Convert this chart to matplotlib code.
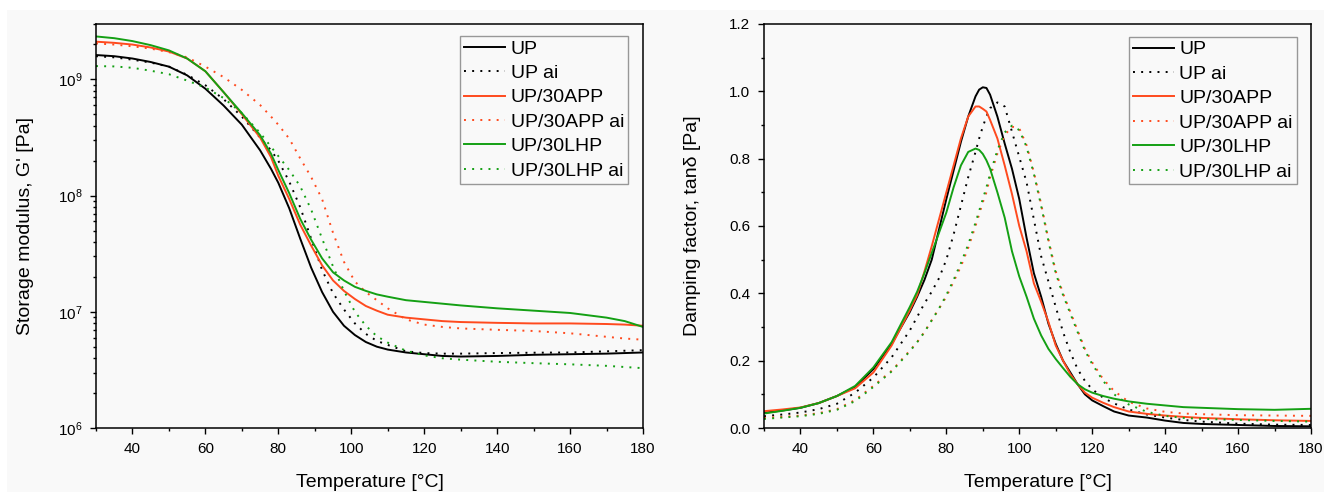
import numpy as np
import matplotlib
matplotlib.use("Agg")
import matplotlib.pyplot as plt
from matplotlib.patches import Rectangle
from matplotlib.ticker import LogLocator, MultipleLocator, NullFormatter

plt.rcParams['font.family'] = ['Liberation Sans', 'DejaVu Sans']
plt.rcParams['mathtext.fontset'] = 'custom'
plt.rcParams['mathtext.rm'] = 'Liberation Sans'
plt.rcParams['mathtext.it'] = 'Liberation Sans:italic'

# ---- storage modulus, log10(G' / Pa) ----
temp_g = [30, 35, 40, 45, 50, 55, 60, 65, 70, 75, 78, 80, 83, 86, 89, 92, 95, 98,
          101, 104, 107, 110, 115, 120, 125, 130, 140, 150, 160, 170, 175, 180]
logG_up = [9.21, 9.20, 9.18, 9.15, 9.11, 9.035, 8.92, 8.775, 8.61, 8.39, 8.23, 8.11,
           7.89, 7.63, 7.38, 7.17, 7.00, 6.88, 6.80, 6.74, 6.70, 6.675, 6.65, 6.635,
           6.62, 6.615, 6.62, 6.63, 6.635, 6.64, 6.645, 6.65]
logG_up_ai = [9.20, 9.19, 9.17, 9.145, 9.11, 9.04, 8.95, 8.83, 8.68, 8.50, 8.39, 8.30,
              8.12, 7.90, 7.63, 7.36, 7.16, 7.02, 6.90, 6.81, 6.75, 6.715, 6.66, 6.645,
              6.64, 6.64, 6.645, 6.648, 6.65, 6.66, 6.665, 6.67]
logG_app = [9.325, 9.315, 9.30, 9.275, 9.24, 9.18, 9.07, 8.89, 8.70, 8.50, 8.33, 8.17,
            7.97, 7.75, 7.57, 7.40, 7.27, 7.18, 7.11, 7.05, 7.01, 6.975, 6.95, 6.935,
            6.92, 6.912, 6.905, 6.90, 6.90, 6.895, 6.89, 6.88]
logG_app_ai = [9.31, 9.30, 9.285, 9.265, 9.235, 9.19, 9.11, 9.02, 8.91, 8.78, 8.68, 8.61,
               8.49, 8.32, 8.16, 7.97, 7.68, 7.43, 7.26, 7.17, 7.10, 7.03, 6.935, 6.89,
               6.87, 6.857, 6.845, 6.835, 6.815, 6.785, 6.77, 6.76]
logG_lhp = [9.37, 9.355, 9.33, 9.295, 9.25, 9.18, 9.07, 8.89, 8.71, 8.52, 8.36, 8.22,
            8.02, 7.80, 7.62, 7.46, 7.34, 7.27, 7.215, 7.18, 7.15, 7.13, 7.10, 7.085,
            7.07, 7.055, 7.03, 7.01, 6.99, 6.95, 6.92, 6.87]
logG_lhp_ai = [9.115, 9.112, 9.10, 9.075, 9.045, 8.99, 8.93, 8.84, 8.71, 8.54, 8.42, 8.34,
               8.22, 8.08, 7.88, 7.63, 7.39, 7.18, 7.00, 6.88, 6.79, 6.735, 6.665, 6.625,
               6.60, 6.588, 6.57, 6.558, 6.548, 6.535, 6.525, 6.515]

# ---- damping factor, tan delta ----
temp_d = [30, 35, 40, 45, 50, 55, 60, 65, 70, 72, 74, 76, 78, 80, 82, 84, 86, 88, 89, 90,
          91, 92, 94, 96, 98, 100, 102, 104, 106, 108, 110, 112, 114, 116, 118, 120,
          123, 126, 130, 135, 140, 145, 150, 160, 170, 180]
tan_up = [0.045, 0.052, 0.060, 0.074, 0.095, 0.122, 0.175, 0.25, 0.345, 0.39, 0.44, 0.50,
          0.59, 0.68, 0.765, 0.85, 0.925, 0.985, 1.005, 1.012, 1.01, 0.99, 0.925, 0.845,
          0.77, 0.68, 0.565, 0.46, 0.39, 0.31, 0.25, 0.20, 0.165, 0.13, 0.10, 0.082,
          0.065, 0.049, 0.037, 0.031, 0.022, 0.015, 0.012, 0.009, 0.006, 0.005]
tan_up_ai = [0.035, 0.040, 0.046, 0.056, 0.072, 0.105, 0.15, 0.21, 0.29, 0.33, 0.37, 0.405,
             0.445, 0.50, 0.575, 0.66, 0.745, 0.82, 0.86, 0.895, 0.925, 0.95, 0.967, 0.955,
             0.88, 0.805, 0.73, 0.62, 0.51, 0.435, 0.36, 0.285, 0.225, 0.175, 0.14, 0.115,
             0.09, 0.073, 0.055, 0.04, 0.031, 0.024, 0.019, 0.013, 0.010, 0.009]
tan_app = [0.050, 0.055, 0.061, 0.074, 0.095, 0.118, 0.165, 0.245, 0.35, 0.395, 0.465, 0.54,
           0.62, 0.70, 0.78, 0.86, 0.925, 0.955, 0.955, 0.948, 0.94, 0.915, 0.86, 0.78,
           0.695, 0.60, 0.525, 0.43, 0.375, 0.315, 0.245, 0.20, 0.16, 0.13, 0.105, 0.09,
           0.075, 0.062, 0.049, 0.042, 0.037, 0.033, 0.030, 0.026, 0.023, 0.021]
tan_app_ai = [0.030, 0.033, 0.037, 0.044, 0.056, 0.083, 0.125, 0.17, 0.23, 0.255, 0.285, 0.32,
              0.355, 0.39, 0.435, 0.48, 0.535, 0.60, 0.635, 0.67, 0.70, 0.745, 0.815, 0.87,
              0.895, 0.89, 0.84, 0.76, 0.665, 0.56, 0.465, 0.40, 0.345, 0.29, 0.235, 0.195,
              0.145, 0.11, 0.078, 0.058, 0.048, 0.043, 0.041, 0.038, 0.037, 0.036]
tan_lhp = [0.043, 0.051, 0.060, 0.074, 0.095, 0.125, 0.18, 0.255, 0.36, 0.405, 0.46, 0.52,
           0.58, 0.64, 0.715, 0.78, 0.82, 0.83, 0.826, 0.814, 0.795, 0.77, 0.70, 0.625,
           0.525, 0.45, 0.39, 0.325, 0.275, 0.235, 0.205, 0.178, 0.152, 0.13, 0.115, 0.105,
           0.095, 0.087, 0.079, 0.072, 0.067, 0.062, 0.060, 0.056, 0.054, 0.057]
tan_lhp_ai = [0.027, 0.031, 0.035, 0.042, 0.054, 0.080, 0.122, 0.168, 0.228, 0.255, 0.285, 0.32,
              0.355, 0.395, 0.44, 0.49, 0.545, 0.61, 0.645, 0.68, 0.715, 0.755, 0.825, 0.878,
              0.898, 0.885, 0.835, 0.755, 0.66, 0.555, 0.46, 0.395, 0.34, 0.285, 0.23, 0.19,
              0.14, 0.10, 0.07, 0.048, 0.036, 0.030, 0.027, 0.024, 0.021, 0.019]

labels = ["UP", "UP ai", "UP/30APP", "UP/30APP ai", "UP/30LHP", "UP/30LHP ai"]
colors = ["black", "black", "#ff4a1e", "#ff4a1e", "#14a014", "#14a014"]
dotted = (0, (1, 3.2))
styles = ["-", dotted, "-", dotted, "-", dotted]

bg = "#f9f9f9"
fig = plt.figure(figsize=(13.24, 4.92), dpi=100)
fig.patch.set_facecolor("white")
fig.patches.append(Rectangle((7 / 1324, 0), 1, 1 - 10 / 492, transform=fig.transFigure,
                             facecolor=bg, edgecolor="none", zorder=-10))

ax1 = fig.add_axes([96 / 1324, 1 - 428 / 492, 547 / 1324, 404 / 492])
ax2 = fig.add_axes([764 / 1324, 1 - 428 / 492, 547 / 1324, 404 / 492])

g_series = [logG_up, logG_up_ai, logG_app, logG_app_ai, logG_lhp, logG_lhp_ai]
d_series = [tan_up, tan_up_ai, tan_app, tan_app_ai, tan_lhp, tan_lhp_ai]

for lg, lab, c, ls in zip(g_series, labels, colors, styles):
    ax1.plot(temp_g, 10 ** np.array(lg), color=c, linestyle=ls, lw=1.4, label=lab)
for td, lab, c, ls in zip(d_series, labels, colors, styles):
    ax2.plot(temp_d, td, color=c, linestyle=ls, lw=1.4, label=lab)

ax1.set_yscale("log")
ax1.set_ylim(1e6, 3e9)
ax1.yaxis.set_major_locator(LogLocator(base=10, numticks=10))
ax1.yaxis.set_minor_locator(LogLocator(base=10, subs=np.arange(2, 10), numticks=20))
ax1.yaxis.set_minor_formatter(NullFormatter())
ax1.set_ylabel("Storage modulus, G' [Pa]", fontsize=14, labelpad=17)

ax2.set_ylim(0, 1.2)
ax2.yaxis.set_major_locator(MultipleLocator(0.2))
ax2.yaxis.set_minor_locator(MultipleLocator(0.1))
ax2.yaxis.set_major_formatter(matplotlib.ticker.FormatStrFormatter("%.1f"))
ax2.set_ylabel("Damping factor, tanδ [Pa]", fontsize=14, labelpad=20)

for ax, anchor in ((ax1, (0.973, 0.970)), (ax2, (0.974, 0.968))):
    ax.set_facecolor(bg)
    ax.set_xlim(30, 180)
    ax.xaxis.set_major_locator(MultipleLocator(20))
    ax.xaxis.set_minor_locator(MultipleLocator(10))
    ax.set_xlabel("Temperature [°C]", fontsize=14, labelpad=13)
    ax.tick_params(which="both", direction="out", top=False, right=False,
                   labelsize=11, width=1.0, pad=6)
    ax.tick_params(which="major", length=4)
    ax.tick_params(which="minor", length=2.5)
    for s in ax.spines.values():
        s.set_linewidth(1.1)
    leg = ax.legend(loc="upper right", bbox_to_anchor=anchor, borderaxespad=0,
                    fontsize=14, frameon=True, fancybox=False, handlelength=2.1,
                    handletextpad=0.3, labelspacing=0.35, borderpad=0.2)
    leg.get_frame().set_edgecolor("#808080")
    leg.get_frame().set_linewidth(1.0)
    leg.get_frame().set_facecolor(bg)

fig.savefig("out.png", dpi=100, facecolor=fig.get_facecolor())
